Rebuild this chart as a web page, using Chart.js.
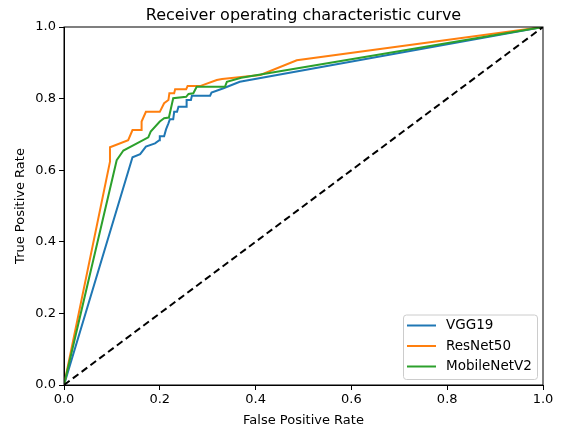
<!DOCTYPE html>
<html>
<head>
<meta charset="utf-8">
<script src="https://cdn.jsdelivr.net/npm/chart.js@4.4.1/dist/chart.umd.min.js"></script>
<style>
  html, body { margin: 0; padding: 0; background: #fff; }
  #wrap { width: 564px; height: 430px; }
</style>
</head>
<body>
<div id="wrap"><canvas id="roc" width="564" height="430"></canvas></div>
<script>
// ROC points
const vggFpr = [0, 0.143, 0.159, 0.171, 0.190, 0.199, 0.200, 0.209, 0.213, 0.218, 0.221, 0.228, 0.230, 0.236, 0.239, 0.255, 0.256, 0.265, 0.267, 0.305, 0.308, 0.333, 0.367, 1];
const vggTpr = [0, 0.636, 0.645, 0.666, 0.675, 0.684, 0.695, 0.695, 0.714, 0.731, 0.742, 0.742, 0.763, 0.763, 0.777, 0.777, 0.796, 0.796, 0.808, 0.808, 0.817, 0.829, 0.847, 1];

const resFpr = [0, 0.096, 0.096, 0.134, 0.143, 0.161, 0.162, 0.171, 0.200, 0.209, 0.218, 0.220, 0.230, 0.232, 0.255, 0.258, 0.284, 0.319, 0.330, 0.410, 0.486, 1];
const resTpr = [0, 0.624, 0.664, 0.684, 0.712, 0.712, 0.736, 0.763, 0.763, 0.787, 0.796, 0.815, 0.815, 0.826, 0.826, 0.835, 0.835, 0.852, 0.855, 0.866, 0.907, 1];

const mobFpr = [0, 0.110, 0.124, 0.176, 0.181, 0.200, 0.209, 0.219, 0.228, 0.255, 0.260, 0.270, 0.277, 0.336, 0.340, 0.370, 1];
const mobTpr = [0, 0.628, 0.655, 0.692, 0.708, 0.736, 0.745, 0.747, 0.801, 0.805, 0.813, 0.815, 0.833, 0.833, 0.847, 0.858, 1];

const modelNames = ['VGG19', 'ResNet50', 'MobileNetV2'];
const modelColors = ['#1f77b4', '#ff7f0e', '#2ca02c'];
const tickValues = [0, 0.2, 0.4, 0.6, 0.8, 1.0];
const chartTitle = 'Receiver operating characteristic curve';

const toPoints = (xs, ys) => xs.map((x, i) => ({ x: x, y: ys[i] }));

// title centred over the axes, not the whole canvas
const axesTitle = {
    id: 'axesTitle',
    afterDraw(chart) {
        const ctx = chart.ctx;
        const a = chart.chartArea;
        ctx.save();
        ctx.font = '16px "DejaVu Sans"';
        ctx.fillStyle = '#000';
        ctx.textAlign = 'center';
        ctx.textBaseline = 'alphabetic';
        ctx.fillText(chartTitle, (a.left + a.right) / 2, a.top - 7);
        ctx.restore();
    }
};

// legend drawn inside the plot, lower right, like matplotlib
const boxLegend = {
    id: 'boxLegend',
    afterDraw(chart) {
        const ctx = chart.ctx;
        const area = chart.chartArea;
        const items = chart.data.datasets.filter(d => modelNames.includes(d.label));
        const w = 134, rowH = 20.5, h = items.length * rowH + 3;
        const x0 = area.right - 6 - w, y0 = area.bottom - 6 - h;
        ctx.save();
        ctx.fillStyle = 'rgba(255,255,255,0.8)';
        ctx.strokeStyle = '#cccccc';
        ctx.lineWidth = 1;
        ctx.beginPath();
        ctx.roundRect(x0 + 0.5, y0 + 0.5, w, h, 3);
        ctx.fill();
        ctx.stroke();
        ctx.font = '13.5px "DejaVu Sans"';
        ctx.textBaseline = 'middle';
        items.forEach((d, i) => {
            const y = y0 + 11 + i * rowH;
            ctx.strokeStyle = d.borderColor;
            ctx.lineWidth = 2;
            ctx.beginPath();
            ctx.moveTo(x0 + 4, y);
            ctx.lineTo(x0 + 33, y);
            ctx.stroke();
            ctx.fillStyle = '#000';
            ctx.fillText(d.label, x0 + 43, y);
        });
        ctx.restore();
    }
};

// full frame around the axes
const frame = {
    id: 'frame',
    afterDatasetsDraw(chart) {
        const a = chart.chartArea;
        const ctx = chart.ctx;
        ctx.save();
        ctx.strokeStyle = '#000';
        ctx.lineWidth = 1;
        ctx.strokeRect(a.left, a.top, a.right - a.left, a.bottom - a.top);
        ctx.restore();
    }
};

const makeSet = (i, xs, ys, order) => ({
    label: modelNames[i],
    data: toPoints(xs, ys),
    borderColor: modelColors[i],
    backgroundColor: modelColors[i],
    borderWidth: 2,
    pointRadius: 0,
    showLine: true,
    tension: 0,
    order: order
});

Chart.defaults.font.family = '"DejaVu Sans", sans-serif';
Chart.defaults.color = '#000';

new Chart(document.getElementById('roc'), {
    type: 'scatter',
    data: {
        datasets: [
            makeSet(0, vggFpr, vggTpr, 3),
            makeSet(1, resFpr, resTpr, 2),
            makeSet(2, mobFpr, mobTpr, 1),
            {
                label: 'chance',
                data: toPoints([0, 1], [0, 1]),
                borderColor: '#000',
                borderWidth: 2,
                borderDash: [7, 4],
                pointRadius: 0,
                showLine: true,
                order: 0
            }
        ]
    },
    options: {
        responsive: false,
        animation: false,
        layout: { padding: { left: 0, right: 21, top: 27, bottom: 0 } },
        plugins: {
            legend: { display: false },
            tooltip: { enabled: false },
            title: { display: false }
        },
        scales: {
            x: {
                type: 'linear',
                min: 0,
                max: 1,
                afterBuildTicks: s => { s.ticks = tickValues.map(v => ({ value: v })); },
                afterFit: s => { s.height = 45; },
                ticks: { font: { size: 13 }, padding: 2, maxRotation: 0, callback: v => v.toFixed(1) },
                grid: { display: true, drawOnChartArea: false, tickLength: 5, color: '#000' },
                border: { color: '#000' },
                title: { display: true, text: 'False Positive Rate', font: { size: 13 }, padding: { top: 2, bottom: 2 } }
            },
            y: {
                type: 'linear',
                min: 0,
                max: 1,
                afterBuildTicks: s => { s.ticks = tickValues.map(v => ({ value: v })); },
                afterFit: s => { s.width = 64; },
                ticks: { font: { size: 13 }, padding: 3, callback: v => v.toFixed(1) },
                grid: { display: true, drawOnChartArea: false, tickLength: 5, color: '#000' },
                border: { color: '#000' },
                title: { display: true, text: 'True Positive Rate', font: { size: 13 }, padding: { top: 13, bottom: 4 } }
            }
        }
    },
    plugins: [frame, boxLegend, axesTitle]
});
</script>
</body>
</html>
